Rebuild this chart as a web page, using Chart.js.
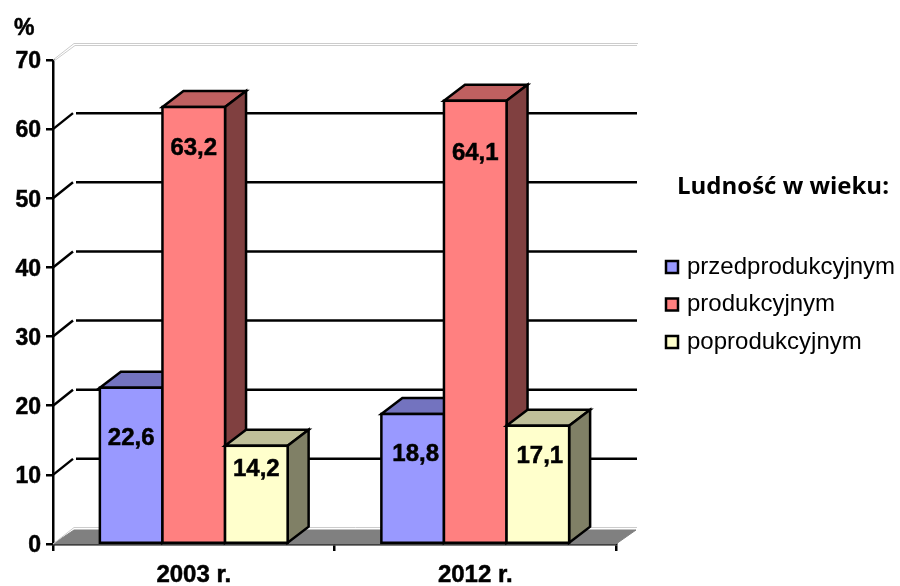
<!DOCTYPE html>
<html lang="pl">
  <head>
    <meta charset="UTF-8" />
    <title>Ludność w wieku</title>
    <style>
      html, body { margin: 0; background: #fff; }
      canvas { display: block; }
    </style>
  </head>
  <body>
    <canvas id="myChart" width="900" height="586"></canvas>
    <script src="https://cdn.jsdelivr.net/npm/chart.js"></script>
    <script>
      const categories = ["2003 r.", "2012 r."];
      const seriesNames = ["przedprodukcyjnym", "produkcyjnym", "poprodukcyjnym"];
      const przedprodukcyjnym = [22.6, 18.8];
      const produkcyjnym = [63.2, 64.1];
      const poprodukcyjnym = [14.2, 17.1];
      const yTicks = [0, 10, 20, 30, 40, 50, 60, 70];

      const fronts = ["#9999ff", "#ff8080", "#ffffcc"];
      const tops = ["#7373bf", "#bf6060", "#bfbf99"];
      const sides = ["#4d4d80", "#804040", "#808066"];

      // the labels were placed by hand in the original: px below bar top, px off centre
      const labelDrop = [[51, 40], [41, 53], [24, 31]];
      const labelNudge = [[0, 3], [0, 0], [0, 2]];

      const depthX = 21;
      const depthY = 16;
      const stroke = 2.5;
      const boldFont = "bold 23px 'Liberation Sans'";

      function poly(ctx, pts, fill) {
        ctx.beginPath();
        pts.forEach((p, i) => (i ? ctx.lineTo(p[0], p[1]) : ctx.moveTo(p[0], p[1])));
        ctx.closePath();
        if (fill) {
          ctx.fillStyle = fill;
          ctx.fill();
        }
        ctx.stroke();
      }

      function line(ctx, x1, y1, x2, y2) {
        ctx.beginPath();
        ctx.moveTo(x1, y1);
        ctx.lineTo(x2, y2);
        ctx.stroke();
      }

      // slightly heavier than plain bold, the original text is soft and thick
      function heavyText(ctx, text, x, y) {
        ctx.lineWidth = 0.5;
        ctx.strokeStyle = "#000";
        ctx.fillText(text, x, y);
        ctx.strokeText(text, x, y);
      }

      const box3d = {
        id: "box3d",
        beforeDatasetsDraw(chart) {
          const ctx = chart.ctx;
          const { left, right, bottom } = chart.chartArea;
          const y = chart.scales.y;
          ctx.save();

          // floor
          ctx.strokeStyle = "#808080";
          ctx.lineWidth = 1;
          poly(ctx, [[left, bottom], [right, bottom], [right + depthX - 1, bottom - depthY + 2], [left + depthX, bottom - depthY + 2]], "#808080");
          ctx.strokeStyle = "#cccccc";
          ctx.lineWidth = 1;
          line(ctx, left + depthX, bottom - depthY - 0.5, right + depthX, bottom - depthY - 0.5);
          line(ctx, left, bottom, left + depthX, bottom - depthY - 0.5);

          // back wall lines
          yTicks.slice(1).forEach((v) => {
            const py = y.getPixelForValue(v);
            if (v === y.max) {
              ctx.strokeStyle = "#cccccc";
              ctx.lineWidth = 1;
              line(ctx, left, py, left + depthX, py - depthY - 0.5);
              line(ctx, left + 1, py + 1, left + depthX + 1, py - depthY + 1.5);
              line(ctx, left + depthX, py - depthY - 0.5, right + depthX + 1, py - depthY - 0.5);
              line(ctx, left + depthX + 1, py - depthY + 1.5, right + depthX, py - depthY + 1.5);
            } else {
              ctx.strokeStyle = "#000";
              ctx.lineWidth = stroke;
              line(ctx, left, py, left + depthX - 1, py - depthY);
              line(ctx, left + depthX + 2, py - depthY, right + depthX, py - depthY);
            }
          });

          // boxes, left to right, so the next bar covers the previous side
          ctx.lineJoin = "miter";
          chart.data.datasets.forEach((ds, i) => {
            const meta = chart.getDatasetMeta(i);
            ctx.strokeStyle = "#000";
            ctx.lineWidth = stroke;
            meta.data.forEach((bar) => {
              const x1 = bar.x - bar.width / 2;
              const x2 = bar.x + bar.width / 2;
              poly(ctx, [[x1, bar.y], [x1 + depthX, bar.y - depthY], [x2 + depthX, bar.y - depthY], [x2, bar.y]], tops[i]);
              poly(ctx, [[x2, bar.y], [x2 + depthX, bar.y - depthY], [x2 + depthX, bar.base - depthY], [x2, bar.base]], sides[i]);
            });
            meta.controller.draw();
            ctx.strokeStyle = "#000";
            ctx.lineWidth = stroke;
            meta.data.forEach((bar) => {
              ctx.strokeRect(bar.x - bar.width / 2, bar.y, bar.width, bar.base - bar.y);
            });
          });

          // value labels
          ctx.fillStyle = "#000";
          ctx.font = "bold 24px 'Liberation Sans'";
          ctx.textAlign = "center";
          ctx.textBaseline = "middle";
          chart.data.datasets.forEach((ds, i) => {
            chart.getDatasetMeta(i).data.forEach((bar, j) => {
              const text = ds.data[j].toFixed(1).replace(".", ",");
              heavyText(ctx, text, bar.x + labelNudge[i][j], bar.y + labelDrop[i][j]);
            });
          });

          ctx.restore();
          return false;
        },
        afterDraw(chart) {
          const ctx = chart.ctx;
          const y = chart.scales.y;
          ctx.save();
          ctx.fillStyle = "#000";
          ctx.textBaseline = "middle";

          // y tick labels sit a little under their ticks in the original
          ctx.font = boldFont;
          ctx.textAlign = "right";
          yTicks.forEach((v) => heavyText(ctx, String(v), 41, y.getPixelForValue(v) + 2));

          ctx.textAlign = "left";
          heavyText(ctx, "%", 14, 29);

          ctx.font = "bold 24px 'Open Sans'";
          ctx.fillText("Ludność w wieku:", 677, 187);

          ctx.font = "24px 'Liberation Sans'";
          seriesNames.forEach((name, i) => {
            const rowY = 267 + i * 37.5;
            ctx.strokeStyle = "#000";
            ctx.lineWidth = stroke;
            ctx.fillStyle = fronts[i];
            ctx.fillRect(666, rowY - 6, 12, 12);
            ctx.strokeRect(666, rowY - 6, 12, 12);
            ctx.fillStyle = "#000";
            ctx.fillText(name, 687, rowY);
          });
          ctx.restore();
        },
      };

      new Chart("myChart", {
        type: "bar",
        data: {
          labels: categories,
          datasets: [przedprodukcyjnym, produkcyjnym, poprodukcyjnym].map((values, i) => ({
            label: seriesNames[i],
            data: values,
            backgroundColor: fronts[i],
            borderWidth: 0,
            barPercentage: 1,
            categoryPercentage: 0.667,
          })),
        },
        options: {
          responsive: false,
          animation: false,
          layout: { padding: { top: 60, right: 284, left: 0, bottom: 0 } },
          plugins: { legend: { display: false }, tooltip: { enabled: false } },
          scales: {
            x: {
              afterFit: (s) => { s.height = 42; },
              grid: { offset: true, drawOnChartArea: false, color: "#000", lineWidth: stroke, tickLength: 7 },
              border: { color: "#000", width: stroke },
              ticks: {
                color: "#000",
                font: { family: "Liberation Sans", size: 24, weight: "bold" },
                padding: 10,
                maxRotation: 0,
                textStrokeColor: "#000",
                textStrokeWidth: 0.5,
              },
            },
            y: {
              min: 0,
              max: 70,
              afterFit: (s) => { s.width = 53; },
              afterBuildTicks: (s) => { s.ticks = yTicks.map((v) => ({ value: v })); },
              grid: { drawOnChartArea: false, color: "#000", lineWidth: stroke, tickLength: 7 },
              border: { color: "#000", width: stroke },
              ticks: { display: false },
            },
          },
        },
        plugins: [box3d],
      });
    </script>
  </body>
</html>
